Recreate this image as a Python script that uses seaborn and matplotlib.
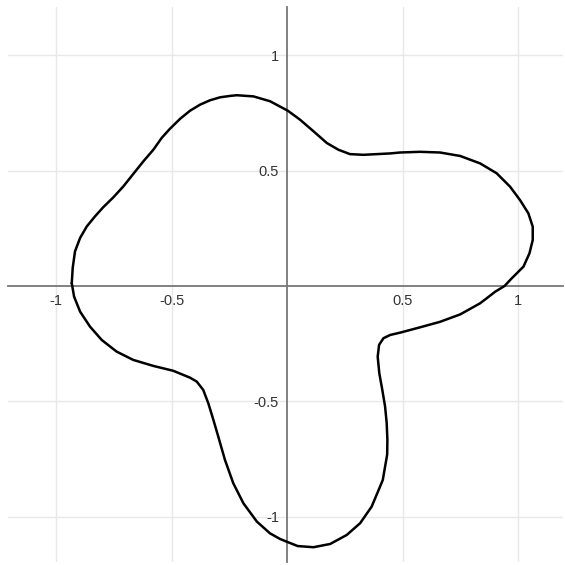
import numpy as np
import pandas as pd
import matplotlib
matplotlib.use("Agg")
import matplotlib.pyplot as plt
import seaborn as sns

# Traced outline of the closed curve (clockwise from the left edge)
curve_x = [-0.933, -0.929, -0.919, -0.897, -0.868, -0.832, -0.797, -0.753, -0.710, -0.667,
           -0.623, -0.580, -0.544, -0.508, -0.464, -0.421, -0.378, -0.335, -0.291, -0.248,
           -0.219, -0.147, -0.075, 0.002, 0.055, 0.113, 0.171, 0.221, 0.271, 0.329,
           0.387, 0.445, 0.488, 0.574, 0.661, 0.748, 0.834, 0.906, 0.964, 1.007,
           1.043, 1.062, 1.062, 1.048, 1.022, 0.968, 0.940, 0.899, 0.863, 0.834,
           0.748, 0.661, 0.574, 0.488, 0.445, 0.416, 0.397, 0.391, 0.398, 0.411,
           0.423, 0.430, 0.433, 0.432, 0.423, 0.413, 0.401, 0.365, 0.315, 0.257,
           0.185, 0.113, 0.045, -0.003, -0.032, -0.075, -0.132, -0.190, -0.234, -0.270,
           -0.299, -0.320, -0.342, -0.364, -0.392, -0.421, -0.494, -0.580, -0.667, -0.739,
           -0.803, -0.854, -0.897, -0.923, -0.933]
curve_y = [0.012, 0.078, 0.150, 0.208, 0.258, 0.302, 0.341, 0.384, 0.431, 0.485,
           0.540, 0.590, 0.641, 0.681, 0.724, 0.759, 0.785, 0.804, 0.817, 0.823,
           0.826, 0.821, 0.800, 0.759, 0.720, 0.670, 0.619, 0.590, 0.571, 0.568,
           0.571, 0.574, 0.578, 0.581, 0.578, 0.563, 0.531, 0.488, 0.430, 0.372,
           0.315, 0.257, 0.199, 0.142, 0.084, 0.030, 0.000, -0.025, -0.053, -0.075,
           -0.123, -0.155, -0.179, -0.202, -0.212, -0.226, -0.255, -0.306, -0.378, -0.450,
           -0.522, -0.594, -0.667, -0.730, -0.782, -0.840, -0.869, -0.955, -1.027, -1.078,
           -1.117, -1.131, -1.126, -1.107, -1.095, -1.071, -1.020, -0.941, -0.854, -0.753,
           -0.652, -0.580, -0.508, -0.450, -0.414, -0.397, -0.367, -0.346, -0.320, -0.284,
           -0.234, -0.176, -0.111, -0.046, 0.012]

tick_vals = [-1, -0.5, 0.5, 1]
tick_text = ["-1", "-0.5", "0.5", "1"]

df = pd.DataFrame({"x": curve_x, "y": curve_y})

sns.set_style("white")
plt.rcParams["font.family"] = ["Liberation Sans", "DejaVu Sans"]

fig = plt.figure(figsize=(5.65, 5.65), dpi=100)
ax = fig.add_axes([8 / 565, 3 / 565, 555 / 565, 555 / 565])

sns.lineplot(data=df, x="x", y="y", sort=False, estimator=None, color="black",
             linewidth=1.8, ax=ax)
ax.lines[0].set_solid_joinstyle("round")

ax.set_xlim(-1.209, 1.193)
ax.set_ylim(-1.195, 1.208)

# desmos-like axes through the origin
for side in ["top", "right"]:
    ax.spines[side].set_visible(False)
ax.spines["left"].set_position(("data", 0))
ax.spines["bottom"].set_position(("data", 0))
for side in ["left", "bottom"]:
    ax.spines[side].set_color("#777777")
    ax.spines[side].set_linewidth(1.3)
    ax.spines[side].set_zorder(1)

ax.set_xticks(tick_vals)
ax.set_xticklabels(tick_text)
ax.set_yticks(tick_vals)
ax.set_yticklabels(tick_text)
ax.tick_params(axis="both", length=3, width=1, color="#777777", labelsize=10.5,
               labelcolor="#333333", direction="out", pad=3)
ax.grid(True, color="#e8e8e8", linewidth=1)
ax.set_axisbelow(True)
ax.set_xlabel("")
ax.set_ylabel("")

fig.savefig("out.png", dpi=100)
